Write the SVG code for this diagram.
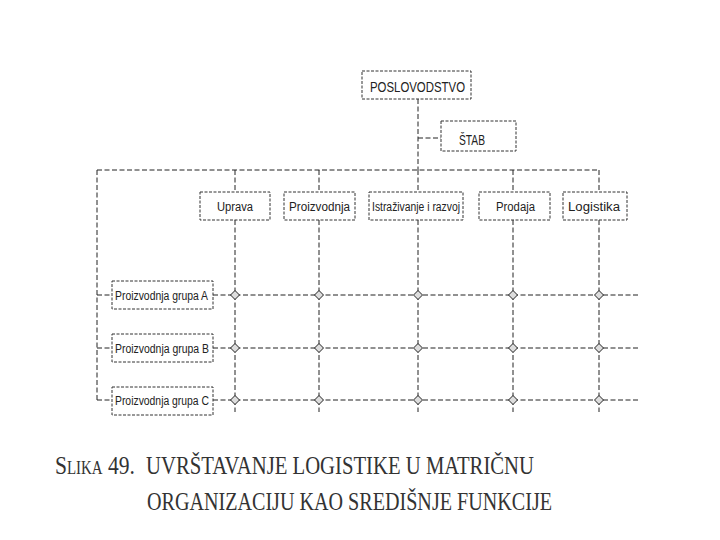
<svg xmlns="http://www.w3.org/2000/svg" width="720" height="540" viewBox="0 0 720 540">
<style>
.box{fill:#fff;stroke:#333;stroke-width:1;stroke-dasharray:3 1.5}
.lbl{font-family:"Liberation Sans",Arial,sans-serif;font-size:12px;fill:#222}
.cap{font-family:"Liberation Sans",Arial,sans-serif;font-size:14px;fill:#222}
.ln{fill:none;stroke:#222;stroke-width:1;stroke-dasharray:5 2.5}
.dm{fill:#ddd;stroke:#222;stroke-width:1}
.ttl{font-family:"Liberation Serif","Times New Roman",serif;font-size:26px;fill:#333}
</style>
<defs>
<path id="dia" class="dm" d="M0,-4.5 L4.5,0 L0,4.5 L-4.5,0 Z"/>
</defs>
<g id="connectors">
<path class="ln" d="M418,99 V170"/>
<path class="ln" d="M418,138 H441"/>
<path class="ln" d="M97,170 H599"/>
<path class="ln" d="M97,170 V400"/>
<path class="ln" d="M235,170 V192 M319,170 V192 M418,170 V192 M513,170 V192 M599,170 V192"/>
<path class="ln" d="M235,220 V412 M319,220 V412 M418,220 V412 M513,220 V412 M599,220 V412"/>
<path class="ln" d="M97,295 H112 M97,348 H112 M97,400 H112"/>
<path class="ln" d="M213,295 H640 M213,348 H640 M213,400 H640"/>
</g>
<g id="junctions">
<use href="#dia" x="235" y="295"/><use href="#dia" x="319" y="295"/><use href="#dia" x="418" y="295"/><use href="#dia" x="513" y="295"/><use href="#dia" x="599" y="295"/>
<use href="#dia" x="235" y="348"/><use href="#dia" x="319" y="348"/><use href="#dia" x="418" y="348"/><use href="#dia" x="513" y="348"/><use href="#dia" x="599" y="348"/>
<use href="#dia" x="235" y="400"/><use href="#dia" x="319" y="400"/><use href="#dia" x="418" y="400"/><use href="#dia" x="513" y="400"/><use href="#dia" x="599" y="400"/>
</g>
<g id="poslovodstvo"><rect class="box" x="362" y="71" width="109" height="28"/><text class="cap" x="370" y="92" textLength="95" lengthAdjust="spacingAndGlyphs">POSLOVODSTVO</text></g>
<g id="stab"><rect class="box" x="441" y="121" width="75" height="30"/><text class="cap" x="459" y="145" textLength="26" lengthAdjust="spacingAndGlyphs">ŠTAB</text></g>
<g id="uprava"><rect class="box" x="200" y="192" width="70" height="28"/><text class="lbl" x="217" y="211" textLength="36" lengthAdjust="spacingAndGlyphs">Uprava</text></g>
<g id="proizvodnja"><rect class="box" x="284" y="192" width="71" height="28"/><text class="lbl" x="289" y="211" textLength="61" lengthAdjust="spacingAndGlyphs">Proizvodnja</text></g>
<g id="istrazivanje"><rect class="box" x="369" y="192" width="94" height="28"/><text class="lbl" x="372" y="211" textLength="88" lengthAdjust="spacingAndGlyphs">Istraživanje i razvoj</text></g>
<g id="prodaja"><rect class="box" x="479" y="192" width="71" height="28"/><text class="lbl" x="496" y="211" textLength="39" lengthAdjust="spacingAndGlyphs">Prodaja</text></g>
<g id="logistika"><rect class="box" x="563" y="192" width="64" height="28"/><text class="lbl" x="568" y="211" textLength="52" lengthAdjust="spacingAndGlyphs">Logistika</text></g>
<g id="grupaA"><rect class="box" x="112" y="281" width="101" height="28"/><text class="lbl" x="115" y="300" textLength="93" lengthAdjust="spacingAndGlyphs">Proizvodnja grupa A</text></g>
<g id="grupaB"><rect class="box" x="112" y="334" width="101" height="28"/><text class="lbl" x="115" y="353" textLength="94" lengthAdjust="spacingAndGlyphs">Proizvodnja grupa B</text></g>
<g id="grupaC"><rect class="box" x="112" y="387" width="101" height="28"/><text class="lbl" x="115" y="405" textLength="94" lengthAdjust="spacingAndGlyphs">Proizvodnja grupa C</text></g>
<g id="caption">
<text class="ttl" x="55" y="474" font-variant="small-caps" textLength="80" lengthAdjust="spacingAndGlyphs">Slika 49.</text>
<text class="ttl" x="146" y="474" textLength="388" lengthAdjust="spacingAndGlyphs">UVRŠTAVANJE LOGISTIKE U MATRIČNU</text>
<text class="ttl" x="147" y="510" textLength="405" lengthAdjust="spacingAndGlyphs">ORGANIZACIJU KAO SREDIŠNJE FUNKCIJE</text>
</g>
</svg>
